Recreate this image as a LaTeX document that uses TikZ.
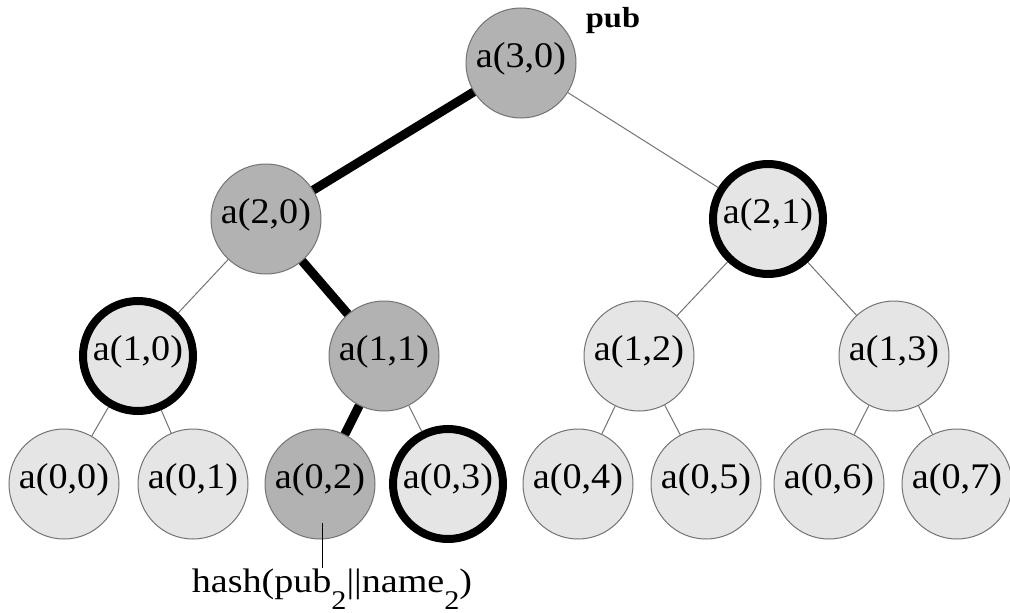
\documentclass[tikz,border=0pt]{standalone}
\usepackage{fontspec}
\setmainfont{Liberation Serif}[FakeStretch=1.12]
\newfontfamily\nodefont{Liberation Serif}[FakeStretch=1.06]
\usetikzlibrary{calc}
\begin{document}
\begin{tikzpicture}[x=1pt,y=-1pt,
  tn/.style={circle,draw=black!55,line width=1pt,minimum size=110pt,inner sep=0pt,
    font=\nodefont\fontsize{36}{36}\selectfont,text height=0.92em,text depth=0pt},
  dk/.style={fill=black!30},
  lt/.style={fill=black!10},
  bd/.style={draw=black,line width=8pt},
  thinedge/.style={draw=black!55,line width=1pt},
  pathedge/.style={draw=black,line width=9pt}]
\useasboundingbox (0,0) rectangle (1010,613);
% nodes
\node[tn,dk] (a30) at (521,63) {a(3,0)};
\node[tn,dk] (a20) at (266,219) {a(2,0)};
\node[tn,lt,bd] (a21) at (768,219) {a(2,1)};
\node[tn,lt,bd] (a10) at (138,356) {a(1,0)};
\node[tn,dk] (a11) at (384,356) {a(1,1)};
\node[tn,lt] (a12) at (639,356) {a(1,2)};
\node[tn,lt] (a13) at (894,356) {a(1,3)};
\node[tn,lt] (a00) at (64,484) {a(0,0)};
\node[tn,lt] (a01) at (193,484) {a(0,1)};
\node[tn,dk] (a02) at (320,484) {a(0,2)};
\node[tn,lt,bd] (a03) at (448,484) {a(0,3)};
\node[tn,lt] (a04) at (578,484) {a(0,4)};
\node[tn,lt] (a05) at (706,484) {a(0,5)};
\node[tn,lt] (a06) at (829,484) {a(0,6)};
\node[tn,lt] (a07) at (957,484) {a(0,7)};
% labels
\node[font=\fontsize{29}{29}\selectfont\bfseries] (pub) at (613,21) {pub};
\node[anchor=base,inner sep=0pt,font=\fontsize{34}{34}\selectfont] (hash) at (332,592)
  {hash(pub\raisebox{-0.5em}{\fontsize{27}{27}\selectfont 2}||name\raisebox{-0.5em}{\fontsize{27}{27}\selectfont 2})};
% edges
\draw[pathedge] (a30) -- (a20);
\draw[pathedge] (a20) -- (a11);
\draw[pathedge] (a11) -- (a02);
\draw[thinedge] (a30) -- (a21);
\draw[thinedge] (a20) -- (a10);
\draw[thinedge] (a21) -- (a12);
\draw[thinedge] (a21) -- (a13);
\draw[thinedge] (a10) -- (a00);
\draw[thinedge] (a10) -- (a01);
\draw[thinedge] (a11) -- (a03);
\draw[thinedge] (a12) -- (a04);
\draw[thinedge] (a12) -- (a05);
\draw[thinedge] (a13) -- (a06);
\draw[thinedge] (a13) -- (a07);
\coordinate (hs) at ($(a02.center)+(2,39)$);
\draw[black,line width=1pt] (hs) -- (hash.north -| hs);
\end{tikzpicture}
\end{document}
